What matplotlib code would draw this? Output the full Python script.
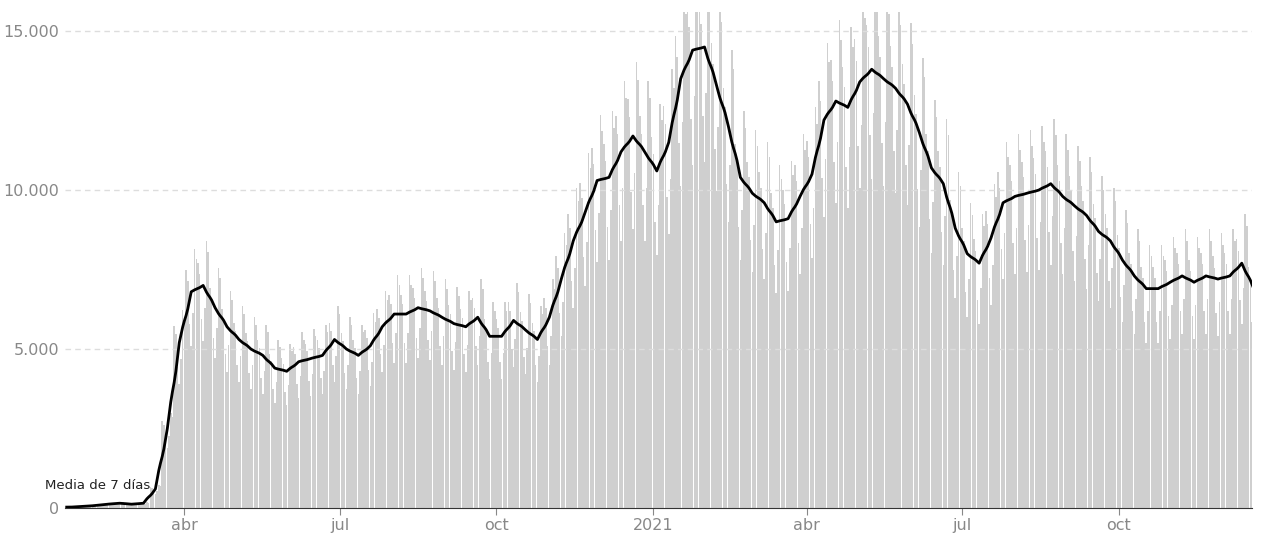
import matplotlib
matplotlib.use("Agg")
import matplotlib.pyplot as plt
import numpy as np
import pandas as pd

start_date = "2020-01-23"
weekly_mean = [30, 50, 80, 120, 150, 120, 150, 600, 2500, 5200,
               6800, 7000, 6300, 5700, 5300, 5000, 4800, 4400, 4300, 4600,
               4700, 4800, 5300, 5000, 4800, 5100, 5700, 6100, 6100, 6300,
               6200, 6000, 5800, 5700, 6000, 5400, 5400, 5900, 5600, 5300,
               6000, 7200, 8400, 9300, 10300, 10400, 11200, 11700, 11200, 10600,
               11500, 13500, 14400, 14500, 13300, 12000, 10400, 9900, 9600, 9000,
               9100, 9800, 10500, 12200, 12800, 12600, 13400, 13800, 13500, 13200,
               12700, 11800, 10700, 10200, 8800, 8000, 7700, 8500, 9600, 9800,
               9900, 10000, 10200, 9800, 9500, 9200, 8700, 8400, 7800, 7300,
               6900, 6900, 7100, 7300, 7100, 7300, 7200, 7300, 7700, 6900]
# weekday factor, Monday..Sunday
weekday_factor = [0.9, 1.2, 1.15, 1.1, 1.05, 0.85, 0.75]
y_ticks = [0, 5000, 10000, 15000]
y_labels = ["0", "5.000", "10.000", "15.000"]
x_ticks = ["2020-04-01", "2020-07-01", "2020-10-01", "2021-01-01", "2021-04-01", "2021-07-01", "2021-10-01"]
x_labels = ["abr", "jul", "oct", "2021", "abr", "jul", "oct"]

dates = pd.date_range(start_date, periods=len(weekly_mean) * 7, freq="D")
base = np.repeat(weekly_mean, 7).astype(float)
fac = np.array([weekday_factor[d.weekday()] for d in dates])
daily = pd.Series(base * fac, index=dates)
rolling = daily.rolling(7, min_periods=1, center=True).mean()

fig = plt.figure(figsize=(12.8, 5.48), dpi=100)
ax = fig.add_axes([65/1280, 40/548, (1252-65)/1280, (508-12)/548])
ax.bar(dates, daily.values, width=0.9, color="#cfcfcf", lw=0, zorder=1)
ax.plot(dates, rolling.values, color="black", lw=2, zorder=3)
ax.set_ylim(0, 15600)
ax.set_xlim(dates[0] - pd.Timedelta(days=1), pd.Timestamp("2021-12-18"))
ax.set_yticks(y_ticks)
ax.set_yticklabels(y_labels)
ax.set_xticks(pd.to_datetime(x_ticks))
ax.set_xticklabels(x_labels)
ax.grid(axis="y", ls=(0, (4, 3)), color="#dddddd", lw=1, zorder=0)
for s in ["top", "right", "left"]:
    ax.spines[s].set_visible(False)
ax.spines["bottom"].set_color("#333333")
ax.tick_params(axis="y", length=0, labelsize=11.5, colors="#888888", pad=4)
ax.tick_params(axis="x", length=5, labelsize=11.5, colors="#888888", pad=2)
ax.text(pd.Timestamp("2020-02-10"), 500, "Media de 7 días", fontsize=9.5, ha="center", va="bottom", color="#222222", zorder=4)
fig.savefig("out.png", dpi=100)
